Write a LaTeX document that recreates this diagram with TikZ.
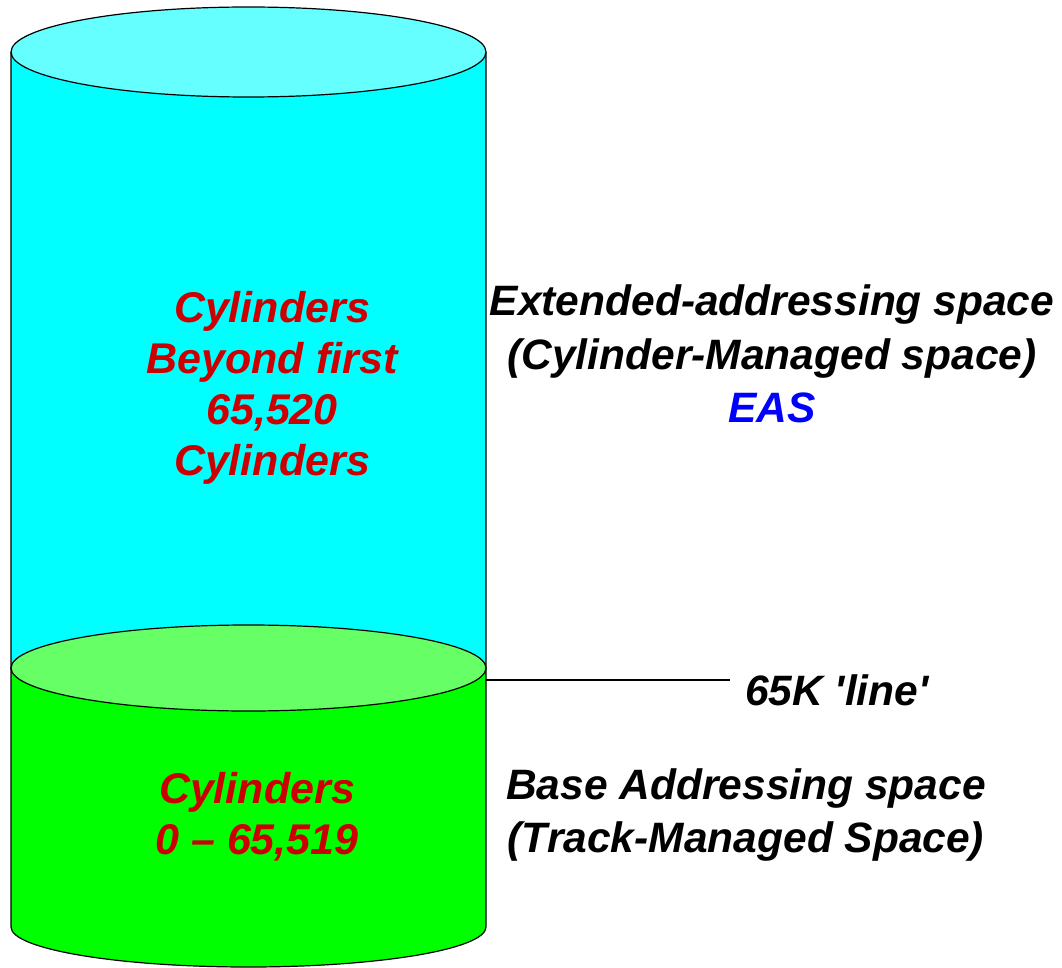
\documentclass[tikz,border=0pt]{standalone}
\usepackage{fontspec}
\setmainfont{Liberation Sans}
\usetikzlibrary{positioning}

\definecolor{cyantop}{HTML}{66FFFF}
\definecolor{cyanbody}{HTML}{00FFFF}
\definecolor{greentop}{HTML}{66FF66}
\definecolor{greenbody}{HTML}{00FF00}
\definecolor{cylred}{HTML}{CC0000}
\definecolor{easblue}{HTML}{0000FF}

\begin{document}
\begin{tikzpicture}[
    x=1pt, y=-1pt,
    edge/.style={draw=black, line width=1.2pt},
    redtxt/.style={font=\fontsize{43}{51}\selectfont\bfseries\itshape,
                   text=cylred, align=center, inner sep=0pt},
    sidetxt/.style={font=\fontsize{42.5}{53.5}\selectfont\bfseries\itshape,
                    text=black, align=center, inner sep=0pt},
]
\useasboundingbox (0,0) rectangle (1062,968);

% upper cylinder (EAS)
\path[edge, fill=cyanbody] (11,52) -- (11,668)
  arc[start angle=180, end angle=0, x radius=237.5, y radius=43] -- (486,52);
\draw[edge, fill=cyantop] (248.5,52) ellipse[x radius=237.5, y radius=45];

% lower cylinder (base space)
\path[edge, fill=greenbody] (11,668) -- (11,927)
  arc[start angle=180, end angle=0, x radius=237.5, y radius=40] -- (486,668);
\draw[edge, fill=greentop] (248.5,668) ellipse[x radius=237.5, y radius=43];

% texts inside
\node[redtxt] (upper) at (272,388)
  {Cylinders\\Beyond first\\65,520\\Cylinders};
\node[redtxt] (lower) at (257,817) {Cylinders\\0 -- 65,519};

% texts on the right
\node[sidetxt] (eas) at (772,354)
  {Extended-addressing space\\(Cylinder-Managed space)\\\textcolor{easblue}{EAS}};
\node[sidetxt] (base) at (746,815)
  {Base Addressing space\\(Track-Managed Space)};

% 65K line
\coordinate (rim) at (486,680);
\node[sidetxt, anchor=west] (line65) at (745,690)
  {65K \textquotesingle line\textquotesingle};
\draw[edge] (rim) -- (rim -| 730,0);

\end{tikzpicture}
\end{document}
